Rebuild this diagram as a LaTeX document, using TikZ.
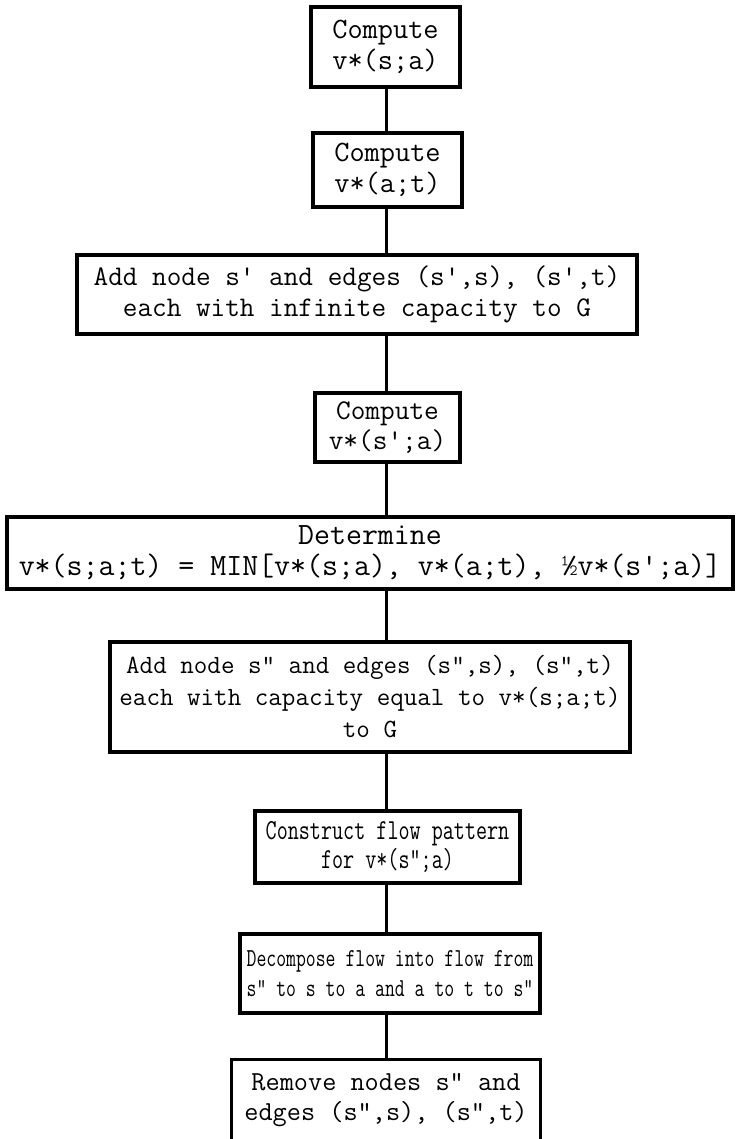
\documentclass[tikz,border=0pt]{standalone}
\begin{document}
\begin{tikzpicture}[x=1pt,y=-1pt,
  box/.style={draw,line width=3.1pt,align=center,inner sep=0pt},
  fs/.style n args={2}{font=\ttfamily\fontsize{#1}{#2}\selectfont},
  conn/.style={line width=3pt}]
\useasboundingbox (0,0) rectangle (736,1139);
\fill[white] (0,0) rectangle (736,1139);
\coordinate (spine) at (386,0);
\coordinate (pagebottom) at (0,1139);
\newcommand{\sq}{\textquotesingle}
\newcommand{\tall}[1]{\scalebox{1}[1.35]{#1}}
\node[box,fs={29.5}{31},minimum width=149pt,minimum height=80pt] (b1) at (385.5,47) {Compute\\v*(s;a)};
\node[box,fs={29.5}{31},minimum width=149pt,minimum height=74pt] (b2) at (387.5,170) {Compute\\v*(a;t)};
\node[box,fs={28.4}{31},minimum width=560pt,minimum height=79pt] (b3) at (357,294.5) {Add node s\sq{} and edges (s\sq,s), (s\sq,t)\\each with infinite capacity to G};
\node[box,fs={28.5}{30},minimum width=145pt,minimum height=69pt] (b4) at (387.5,427.5) {Compute\\v*(s\sq;a)};
\node[box,fs={31}{31},minimum width=726pt,minimum height=72pt] (b5) at (370,553) {Determine\\v*(s;a;t) = MIN[v*(s;a), v*(a;t), ½v*(s\sq;a)]};
\node[box,fs={26.3}{32},minimum width=520pt,minimum height=110pt] (b6) at (370,697) {Add node s" and edges (s",s), (s",t)\\each with capacity equal to v*(s;a;t)\\to G};
\node[box,fs={21.5}{29},minimum width=265pt,minimum height=72pt] (b7) at (387.5,847) {\tall{Construct flow pattern}\\\tall{for v*(s";a)}};
\node[box,fs={19.2}{30},minimum width=300pt,minimum height=79pt] (b8) at (390,973.5) {\tall{Decompose flow into flow from}\\\tall{s" to s to a and a to t to s"}};
\node[fs={27.5}{30},align=center,inner sep=0pt,minimum width=308pt,minimum height=80pt] (b9) at (386,1100) {Remove nodes s" and\\edges (s",s), (s",t)};
\draw[conn] (b9.north west |- pagebottom) -- (b9.north west) -- (b9.north east) -- (b9.north east |- pagebottom);
\draw[conn] (b1.south -| spine) -- (b2.north -| spine);
\draw[conn] (b2.south -| spine) -- (b3.north -| spine);
\draw[conn] (b3.south -| spine) -- (b4.north -| spine);
\draw[conn] (b4.south -| spine) -- (b5.north -| spine);
\draw[conn] (b5.south -| spine) -- (b6.north -| spine);
\draw[conn] (b6.south -| spine) -- (b7.north -| spine);
\draw[conn] (b7.south -| spine) -- (b8.north -| spine);
\draw[conn] (b8.south -| spine) -- (b9.north -| spine);
\end{tikzpicture}
\end{document}
